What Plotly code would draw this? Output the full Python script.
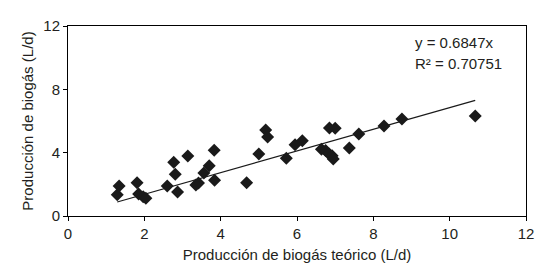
import plotly.graph_objects as go

x_teorico = [1.29, 1.34, 1.81, 1.85, 1.97, 2.04, 2.60, 2.77, 2.81, 2.87,
             3.14, 3.35, 3.42, 3.56, 3.70, 3.83, 3.84, 4.68, 5.00, 5.18,
             5.23, 5.72, 5.95, 6.14, 6.64, 6.75, 6.84, 6.92, 6.95, 6.85,
             7.00, 7.37, 7.62, 8.28, 8.75, 10.67]
y_real = [1.35, 1.90, 2.10, 1.39, 1.22, 1.12, 1.90, 3.39, 2.63, 1.52,
          3.79, 1.96, 2.08, 2.72, 3.18, 4.15, 2.26, 2.10, 3.92, 5.43,
          4.99, 3.64, 4.50, 4.76, 4.21, 4.13, 3.92, 3.81, 3.60, 5.56,
          5.54, 4.30, 5.18, 5.69, 6.13, 6.32]
slope = 0.6847
r2_text = "R² = 0.70751"
eq_text = "y = 0.6847x"
x_ticks = [0, 2, 4, 6, 8, 10, 12]
y_ticks = [0, 4, 8, 12]

fit_x = [min(x_teorico), max(x_teorico)]
fit_y = [slope * v for v in fit_x]

txt = "#231f20"
font = dict(family="Liberation Sans, Arial, sans-serif", size=15, color=txt)

fig = go.Figure()
fig.add_trace(go.Scatter(x=fit_x, y=fit_y, mode="lines",
                         line=dict(color="#1a1a1a", width=1.2), showlegend=False))
fig.add_trace(go.Scatter(x=x_teorico, y=y_real, mode="markers",
                         marker=dict(symbol="diamond", size=10, color="#1a1a1a"),
                         showlegend=False))

fig.add_annotation(x=0.754, y=0.915, xref="paper", yref="paper", text=eq_text,
                   showarrow=False, xanchor="left", yanchor="middle", font=font)
fig.add_annotation(x=0.754, y=0.80, xref="paper", yref="paper", text=r2_text,
                   showarrow=False, xanchor="left", yanchor="middle", font=font)

axis_common = dict(showgrid=False, zeroline=False, showline=True, linecolor="black",
                   linewidth=1, mirror=True, ticks="outside", ticklen=4,
                   tickcolor="black", tickfont=font, automargin=False)
fig.update_xaxes(range=[0, 12], tickvals=x_ticks, **axis_common,
                 title=dict(text="Producción de biogás teórico (L/d)", font=font, standoff=8))
fig.update_yaxes(range=[0, 12], tickvals=y_ticks, **axis_common,
                 title=dict(text="Producción de biogás (L/d)", font=font, standoff=6))

fig.update_layout(width=556, height=279, margin=dict(l=68, r=30, t=26, b=63),
                  plot_bgcolor="white", paper_bgcolor="white", font=font)
fig.write_html("out.html", config={"displayModeBar": False},
               post_script="document.body.style.margin='0';document.body.style.padding='0';")
